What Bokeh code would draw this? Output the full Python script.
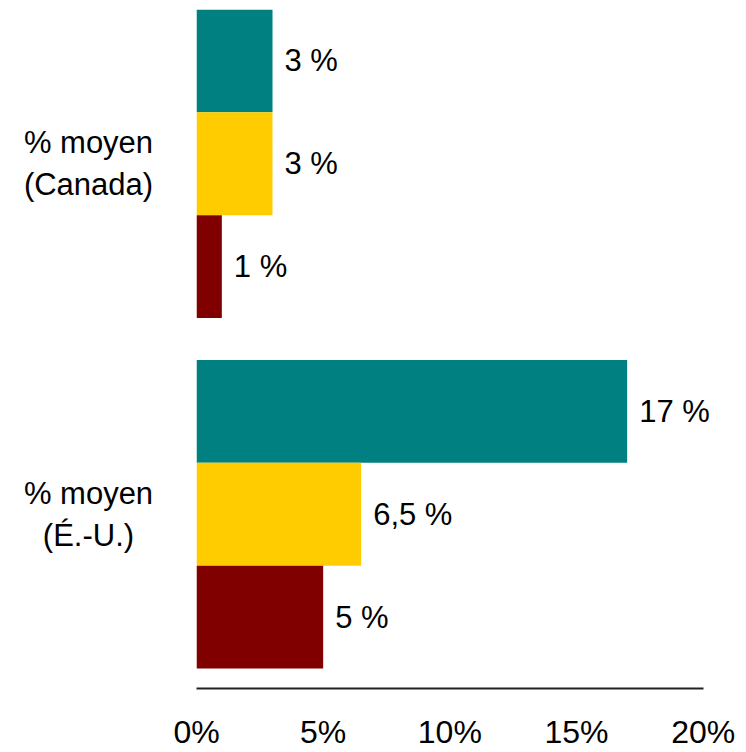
from bokeh.plotting import figure
from bokeh.layouts import row
from bokeh.models import Range1d, FixedTicker, ColumnDataSource, LabelSet
from bokeh.core.properties import value
from bokeh.embed import file_html
from bokeh.resources import INLINE

# ---- data ----
groups = ["% moyen\n(Canada)", "% moyen\n(É.-U.)"]
series_colors = ["#008080", "#FFCC00", "#800000"]
canada_values = [3, 3, 1]
us_values = [17, 6.5, 5]
canada_labels = ["3 %", "3 %", "1 %"]
us_labels = ["17 %", "6,5 %", "5 %"]
x_ticks = [0, 5, 10, 15, 20]
x_tick_labels = ["0%", "5%", "10%", "15%", "20%"]

FONT = "Liberation Sans"

# ---- layout helpers (bar units) ----
bar_h = 1.0
bottom_pad = 0.194
group_step = 3.408

values, colors, ys, texts = [], [], [], []
group_centers = []
for gi, (vals, labs) in enumerate([(us_values, us_labels), (canada_values, canada_labels)]):
    base = bottom_pad + bar_h / 2 + gi * group_step
    # series order top->bottom: teal, yellow, red
    for si in range(3):
        y = base + (2 - si) * bar_h
        values.append(vals[si])
        colors.append(series_colors[si])
        ys.append(y)
        texts.append(labs[si])
    group_centers.append(base + bar_h)

src = ColumnDataSource(dict(x=values, y=ys, c=colors, t=texts))
yr = Range1d(0, 6.602)

TOP, BOTTOM = 9, 63

# ---- left panel: group labels ----
left = figure(width=160, height=752, output_backend="svg", toolbar_location=None,
              x_range=Range1d(0, 160), y_range=yr,
              x_axis_location=None, y_axis_location=None,
              min_border_left=0, min_border_right=0, min_border_top=TOP, min_border_bottom=BOTTOM)
left.outline_line_color = None
left.xgrid.visible = False
left.ygrid.visible = False
gsrc = ColumnDataSource(dict(x=[88, 88], y=group_centers, t=[groups[1], groups[0]]))
left.text(x="x", y="y", text="t", source=gsrc, text_align="center", text_baseline="middle",
          text_font=value(FONT), text_font_size="31px", text_color="black",
          text_line_height=1.2)

# ---- main chart ----
p = figure(width=586, height=752, output_backend="svg", toolbar_location=None,
           x_range=Range1d(0, 21), y_range=yr,
           y_axis_location=None, min_border_left=36, min_border_right=18,
           min_border_top=TOP, min_border_bottom=BOTTOM)
p.outline_line_color = None
p.xgrid.visible = False
p.ygrid.visible = False
p.background_fill_color = "white"
p.border_fill_color = "white"

p.hbar(y="y", left=0, right="x", height=bar_h, color="c", source=src, line_color=None)

p.add_layout(LabelSet(x="x", y="y", text="t", source=src, x_offset=12,
                      text_align="left", text_baseline="middle",
                      text_font=value(FONT), text_font_size="31px", text_color="black"))

ax = p.xaxis[0]
ax.ticker = FixedTicker(ticks=x_ticks)
ax.major_label_overrides = {t: l for t, l in zip(x_ticks, x_tick_labels)}
ax.bounds = (0, 20)
ax.axis_line_color = "#222222"
ax.axis_line_width = 2
ax.major_tick_line_color = None
ax.minor_tick_line_color = None
ax.major_tick_out = 0
ax.major_tick_in = 0
ax.major_label_standoff = 25
ax.major_label_text_font = FONT
ax.major_label_text_font_size = "32px"
ax.major_label_text_color = "black"

layout = row(left, p, spacing=0)
open("out.html", "w").write(file_html(layout, INLINE))
